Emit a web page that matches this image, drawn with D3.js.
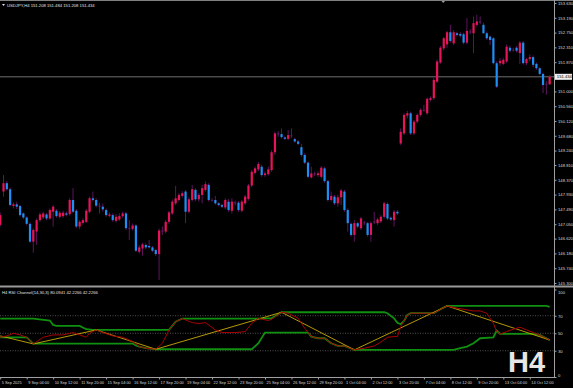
<!DOCTYPE html>
<html>
<head>
<meta charset="utf-8">
<script src="https://cdn.jsdelivr.net/npm/d3@7"></script>
<style>
  html, body { margin: 0; padding: 0; background: #000; overflow: hidden; }
  svg { display: block; }
  text { font-family: "Liberation Sans", Arial, sans-serif; }
</style>
</head>
<body>
<svg id="chart" width="573" height="388"></svg>
<script>
// USDJPY H4 candles, bar 0 = 5 Sep 2025 20:00
const opens = [147.03,148.02,148.27,148.09,147.59,147.64,147.59,147.37,147.25,147.06,
  146.53,146.83,147.17,147.25,147.34,147.22,147.42,147.45,147.27,147.29,
  147.37,147.35,147.77,147.45,146.98,147.09,147.12,147.42,147.82,147.77,
  147.60,147.57,147.47,147.30,147.32,147.15,147.19,147.29,147.37,146.93,
  146.91,147.01,146.23,146.33,146.43,146.40,146.36,146.28,146.16,146.86,
  146.83,147.12,147.37,147.67,147.77,147.89,148.02,147.42,147.77,148.07,
  147.79,147.92,148.07,148.22,147.77,147.77,147.67,147.62,147.55,147.72,
  147.45,147.70,147.69,147.45,147.67,147.80,148.20,148.58,148.68,148.76,
  148.51,148.54,148.66,149.19,149.75,149.73,149.63,149.59,149.69,149.58,
  149.51,149.34,149.11,148.88,148.44,148.56,148.51,148.46,148.71,148.33,
  147.77,147.87,147.67,147.85,148.02,147.47,147.06,146.73,147.08,146.93,
  147.10,147.08,146.73,147.10,147.08,147.13,147.27,147.65,147.24,147.17,
  147.42,149.45,149.75,150.28,150.35,149.75,150.10,150.30,150.45,150.35,
  150.75,150.80,151.29,151.86,152.28,152.40,152.76,152.43,152.73,152.71,
  152.70,152.45,152.78,152.73,152.98,153.08,152.98,152.73,152.63,152.58,
  151.84,151.84,151.82,151.89,152.30,152.24,152.30,152.14,152.45,151.84,
  151.96,152.02,151.82,151.69,151.52,151.19,151.208];
const highs = [147.40,148.51,148.33,148.14,147.70,147.72,147.63,147.40,147.28,147.10,
  146.92,147.22,147.40,147.42,147.38,147.52,147.62,147.50,147.44,147.45,
  147.42,147.82,148.12,147.50,147.17,147.22,147.50,147.87,148.02,147.82,
  147.69,147.67,147.52,147.40,147.37,147.35,147.37,147.42,147.42,147.17,
  147.07,147.05,146.42,146.50,146.48,146.58,146.40,146.32,146.92,146.98,
  147.17,147.45,147.78,148.19,147.98,148.03,148.07,147.85,148.22,148.12,
  147.98,148.22,148.32,148.27,147.82,147.89,147.70,147.66,147.82,147.80,
  147.82,147.75,147.74,147.77,147.92,148.25,148.66,148.76,148.90,148.82,
  148.62,148.76,149.25,149.80,149.82,149.90,149.66,149.85,149.90,149.62,
  149.55,149.44,149.16,148.92,148.76,148.61,148.62,148.78,148.76,148.37,
  148.02,147.92,147.92,148.10,148.07,147.52,147.10,147.17,147.12,147.27,
  147.15,147.12,147.13,147.42,147.24,147.32,147.72,147.70,147.28,147.47,
  147.47,149.90,150.35,150.42,150.40,150.15,150.35,150.50,150.60,150.82,
  150.85,151.40,151.95,152.35,152.62,152.80,152.98,152.82,152.78,152.76,
  152.75,153.18,152.85,153.23,153.28,153.23,153.05,152.78,152.66,152.62,
  151.90,151.99,151.99,152.40,152.36,152.30,152.35,152.50,152.50,152.00,
  152.10,152.07,151.86,151.72,151.56,151.30,151.484];
const lows = [146.98,147.87,148.05,147.58,147.52,147.50,147.28,147.20,147.02,146.50,
  146.20,146.43,147.12,147.20,147.17,147.18,146.98,147.24,147.22,147.24,
  147.28,147.30,147.38,146.93,146.90,147.04,147.08,147.38,147.72,147.55,
  147.37,147.42,147.27,147.26,147.12,147.10,147.15,147.24,146.88,146.58,
  146.86,146.22,146.18,146.11,146.31,146.33,146.22,146.10,145.39,146.73,
  146.78,147.06,147.32,147.62,147.72,147.84,147.08,147.37,147.72,147.74,
  147.72,147.67,148.02,147.72,147.72,147.63,147.58,147.53,147.50,147.42,
  147.37,147.60,147.42,147.40,147.62,147.75,148.15,148.53,148.63,148.46,
  148.46,148.49,148.61,149.11,149.65,149.60,149.55,149.55,149.62,149.47,
  149.40,149.06,148.84,148.42,148.41,148.48,148.46,148.41,148.28,147.72,
  147.72,147.62,147.57,147.62,147.42,146.83,146.68,146.53,146.93,146.88,
  147.03,146.68,146.53,147.05,147.03,147.08,147.22,147.17,147.15,146.98,
  147.32,149.40,149.70,150.20,149.70,149.70,150.05,150.25,150.40,150.30,
  150.70,150.75,151.25,151.82,152.22,152.30,152.45,152.38,152.63,152.60,
  152.40,152.40,152.70,152.14,152.93,153.00,152.72,152.53,152.38,151.80,
  151.10,151.76,151.78,151.85,152.16,152.18,152.16,151.82,151.80,151.78,
  151.90,151.72,151.64,151.48,150.95,150.90,151.208];
const closes = [147.32,148.27,148.09,147.62,147.64,147.57,147.32,147.25,147.06,146.53,
  146.88,147.17,147.34,147.37,147.22,147.47,147.57,147.29,147.39,147.39,
  147.33,147.77,147.42,146.98,147.12,147.17,147.45,147.82,147.77,147.60,
  147.57,147.49,147.32,147.34,147.17,147.27,147.29,147.37,146.93,146.91,
  147.01,146.26,146.36,146.45,146.36,146.36,146.26,146.16,146.86,146.83,
  147.12,147.40,147.72,147.82,147.92,147.97,147.42,147.79,148.09,147.79,
  147.92,148.12,148.24,147.77,147.76,147.67,147.62,147.57,147.77,147.47,
  147.72,147.67,147.47,147.72,147.87,148.20,148.61,148.71,148.84,148.51,
  148.56,148.68,149.19,149.75,149.72,149.64,149.59,149.70,149.67,149.51,
  149.44,149.11,148.88,148.46,148.56,148.53,148.56,148.73,148.33,147.77,
  147.89,147.67,147.85,148.05,147.47,147.08,146.73,147.08,146.98,147.22,
  147.08,146.73,147.08,147.13,147.19,147.27,147.67,147.22,147.19,147.42,
  147.37,149.80,150.30,150.35,149.75,150.10,150.30,150.45,150.43,150.78,
  150.80,151.34,151.89,152.30,152.58,152.76,152.50,152.76,152.68,152.66,
  152.45,152.80,152.77,153.03,153.08,153.05,152.73,152.58,152.53,151.84,
  151.14,151.91,151.94,152.33,152.21,152.23,152.21,152.45,151.84,151.96,
  152.02,151.79,151.69,151.52,151.19,151.21,151.434];

const priceTicks = [153.630,153.190,152.750,152.310,151.870,151.000,150.560,150.120,
  149.680,149.240,148.810,148.370,147.930,147.490,147.050,146.620,146.180,145.740,145.300];
const lastPrice = 151.434;

const timeIdx = [0,8,16,24,32,40,48,56,64,72,80,88,96,104,112,120,128,136,144,152,160];
const timeLabels = ["5 Sep 2025","9 Sep 04:00","10 Sep 12:00","11 Sep 20:00","15 Sep 04:00",
  "16 Sep 12:00","17 Sep 20:00","19 Sep 04:00","22 Sep 12:00","23 Sep 20:00","25 Sep 04:00",
  "26 Sep 12:00","29 Sep 20:00","1 Oct 04:00","2 Oct 12:00","3 Oct 20:00","7 Oct 04:00",
  "8 Oct 12:00","9 Oct 20:00","13 Oct 04:00","14 Oct 12:00"];

// RSI Channel subwindow, [bar, value]
const rsiLine = [[0,45.4],[2,47],[4,50],[6,48.1],[8,45.4],[10,37.8],[11,40.5],[13,45.4],[16,48.1],
  [19,48.1],[22,50.8],[24,48.1],[26,45.4],[27,50],[29,53.8],[31,50.8],[34,47],[37,45.4],[40,40.5],
  [42,34.8],[44,32.9],[47,31.7],[49,38.6],[51,53.8],[53,63.3],[55,66.8],[56,65.2],[58,62.2],
  [60,61],[62,62.2],[65,53.8],[67,50.8],[71,50.8],[74,51.9],[76,61.4],[78,67.1],[81,64.5],
  [82,66],[85,74],[87,72.9],[90,67.1],[92,55.7],[94,46.2],[96,44.3],[98,44.3],[100,38.6],
  [102,35.5],[104,35.5],[107,31],[110,32.9],[113,35.5],[115,40],[117,45.4],[119,46.2],
  [120,46.2],[121,57.6],[123,71],[124,72.9],[128,72.9],[131,72.9],[133,77.4],[135,81.2],
  [138,78.6],[141,76.7],[143,75.5],[145,75.5],[147,72.9],[148,67.1],[149,61.4],[150,51.9],
  [151,49.2],[153,51.9],[155,54.6],[157,56.9],[159,53.8],[161,50.8],[163,48.1],[165,44.3],
  [166,42.23]];
const zigzag = [[0,47],[10,37.8],[29,53.8],[47,31.7],[85,74],[107,31],[135,81.2],[166,42.23]];
const upperBand = [[0,66.8],[10,66.8],[15,64.5],[16,59.5],[17,58.4],[24,58.4],[26,54.6],
  [28,53.8],[51,53.8],[53,63.3],[55,66.8],[78,66.8],[79,67.1],[82,67.1],[85,74],[116,74],
  [117,72.9],[119,67],[120,62],[121,60.3],[122,64],[123,71],[124,72.9],[131,72.9],
  [133,77.4],[135,81.2],[165,81.2],[166,80.09]];
const lowerBand = [[0,45.4],[8,45.4],[10,38.2],[40,38.2],[41,36],[42,34.8],[44,32.9],
  [47,31.7],[76,31.7],[78,38.6],[80,50.8],[93,50.8],[94,46.2],[96,44.3],[98,44.3],
  [100,38.6],[102,35.5],[104,35.5],[107,31],[137,31],[139,32.9],[141,34.8],[143,38.6],
  [145,44.3],[149,45.4],[150,53],[151,49.2],[161,49.2],[163,48.1],[165,44.3],[166,42.23]];
const levels = [70, 50, 30];
const rsiTicks = [100, 70, 50, 30, 0];

const svg = d3.select("#chart");
const axisX = 554.5;

const x = d3.scaleLinear().domain([0, 166]).range([0.2, 549.66]);
const y = d3.scaleLinear().domain([145.3, 153.63]).range([283, 3]);
const yR = d3.scaleLinear().domain([0, 100]).range([377, 289.5]);

// frame lines
svg.append("line").attr("x1", 0).attr("x2", 573).attr("y1", 0.5).attr("y2", 0.5).attr("stroke", "#808080");
svg.append("rect").attr("x", 0).attr("y", 285.5).attr("width", 573).attr("height", 2).attr("fill", "#9a9a9a");
svg.append("line").attr("x1", 0).attr("x2", axisX).attr("y1", 377.5).attr("y2", 377.5).attr("stroke", "#a0a0a0");
svg.append("line").attr("x1", axisX).attr("x2", axisX).attr("y1", 0).attr("y2", 378).attr("stroke", "#a0a0a0");

// current price line
svg.append("line").attr("x1", 0).attr("x2", axisX).attr("y1", y(lastPrice)).attr("y2", y(lastPrice))
  .attr("stroke", "#8c8c8c").attr("stroke-width", 0.8);

// candles
const bars = d3.range(opens.length).map(i => ({ i, o: opens[i], h: highs[i], l: lows[i], c: closes[i] }));
const candles = svg.append("g");
candles.selectAll(".wick").data(bars).enter().append("line")
  .attr("x1", d => x(d.i)).attr("x2", d => x(d.i))
  .attr("y1", d => y(d.h)).attr("y2", d => y(d.l))
  .attr("stroke", "#5e145e").attr("stroke-width", 1);
candles.selectAll(".body").data(bars).enter().append("rect")
  .attr("x", d => x(d.i) - 1.1).attr("width", 2.2)
  .attr("y", d => y(Math.max(d.o, d.c)))
  .attr("height", d => Math.max(0.8, y(Math.min(d.o, d.c)) - y(Math.max(d.o, d.c))))
  .attr("fill", d => Math.abs(d.c - d.o) < 0.035 ? "#6a186a" : (d.c > d.o ? "#e8145a" : "#1e8ff5"));

// price axis
const pAxis = svg.append("g").attr("transform", `translate(${axisX},0)`)
  .call(d3.axisRight(y).tickValues(priceTicks).tickFormat(d3.format(".3f")).tickSize(2).tickPadding(1.5));
pAxis.select(".domain").remove();
pAxis.selectAll("line").attr("stroke", "#a0a0a0");
pAxis.selectAll("text").attr("fill", "#d8d8d8").style("font-size", "4.2px");

// current price box
svg.append("rect").attr("x", axisX + 0.5).attr("y", y(lastPrice) - 3).attr("width", 17).attr("height", 6).attr("fill", "#f0f0f0");
svg.append("text").attr("x", axisX + 2.3).attr("y", y(lastPrice) + 1.5).text(d3.format(".3f")(lastPrice))
  .attr("fill", "#000").style("font-size", "4.2px");

// header
svg.append("path").attr("d", "M2,4 L5,4 L3.5,6 Z").attr("fill", "#e0e0e0");
svg.append("text").attr("x", 7).attr("y", 6.6)
  .text(`USDJPY,H4  ${opens[166].toFixed(3)} ${highs[166].toFixed(3)} ${lows[166].toFixed(3)} ${closes[166].toFixed(3)}`)
  .attr("fill", "#e0e0e0").style("font-size", "4.2px");
svg.append("path").attr("d", "M441.5,1 L445,1 L443.2,3 Z").attr("fill", "#a0a0a0");

// RSI channel subwindow
const sub = svg.append("g");
sub.selectAll(".lvl").data(levels).enter().append("line")
  .attr("x1", 0).attr("x2", axisX).attr("y1", d => yR(d)).attr("y2", d => yR(d))
  .attr("stroke", "#8a8a8a").attr("stroke-width", 0.6).attr("stroke-dasharray", "1,1.5");

const line = d3.line().x(d => x(d[0])).y(d => yR(d[1]));
sub.append("path").datum(upperBand).attr("d", line).attr("fill", "none").attr("stroke", "#109010").attr("stroke-width", 1.8);
sub.append("path").datum(lowerBand).attr("d", line).attr("fill", "none").attr("stroke", "#109010").attr("stroke-width", 1.8);
sub.append("path").datum(zigzag).attr("d", line).attr("fill", "none").attr("stroke", "#c8aa00").attr("stroke-width", 0.9);
sub.append("path").datum(rsiLine).attr("d", line).attr("fill", "none").attr("stroke", "#a80000").attr("stroke-width", 1);

sub.append("text").attr("x", 2).attr("y", 294)
  .text("H4 RSI Channel(14,30,3) 80.0941 42.2266 42.2266")
  .attr("fill", "#e0e0e0").style("font-size", "4.2px");

const rAxis = svg.append("g").attr("transform", `translate(${axisX},0)`)
  .call(d3.axisRight(yR).tickValues(rsiTicks).tickSize(2).tickPadding(1.5));
rAxis.select(".domain").remove();
rAxis.selectAll("line").attr("stroke", "#a0a0a0");
rAxis.selectAll("text").attr("fill", "#d8d8d8").style("font-size", "4.2px")
  .attr("dy", d => d === 100 ? "0.9em" : d === 0 ? "-0.1em" : "0.32em");

// time axis
const tAxis = svg.append("g").attr("transform", "translate(0,377.5)")
  .call(d3.axisBottom(x).tickValues(timeIdx).tickFormat((d, i) => timeLabels[i]).tickSize(2).tickPadding(1.5));
tAxis.select(".domain").remove();
tAxis.selectAll("line").attr("stroke", "#a0a0a0");
tAxis.selectAll("text").attr("fill", "#d8d8d8").style("font-size", "3.9px")
  .attr("text-anchor", "start").attr("x", 1);

// timeframe watermark
svg.append("text").attr("x", 508).attr("y", 372).text("H4")
  .attr("fill", "#e6e6e6").style("font-size", "29px").style("font-weight", "bold");
</script>
</body>
</html>
